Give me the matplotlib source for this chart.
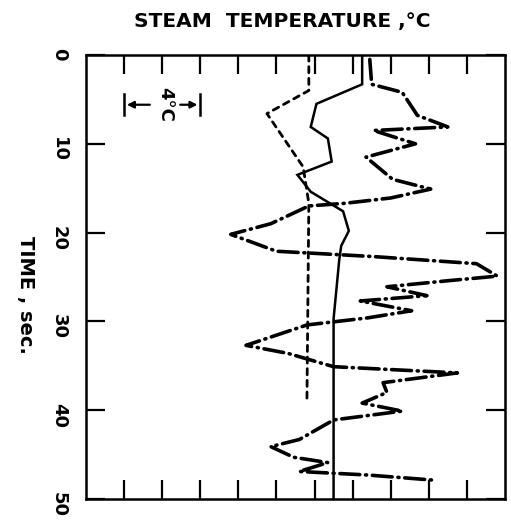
import matplotlib
matplotlib.use("Agg")
import matplotlib.pyplot as plt

# ---- data (temperature in degC relative units, time in sec) ----
solid_T = [14.5, 14.5, 12.1, 11.8, 12.7, 12.9, 11.1, 11.8, 13.5, 13.8, 13.4, 13.3, 13.0, 13.0]
solid_t = [0.0, 3.3, 5.5, 8.1, 9.4, 12.0, 13.5, 15.4, 17.6, 19.8, 21.5, 23.0, 29.7, 50.0]

dashed_T = [11.7, 11.7, 9.5, 11.4, 11.7, 11.6]
dashed_t = [0.0, 4.0, 6.6, 12.6, 16.7, 39.0]

dashdot_T = [14.9, 15.0, 16.6, 17.4, 19.0, 15.1, 17.3, 14.7, 16.1, 18.1, 16.0, 13.6, 11.7,
             9.7, 7.6, 10.0, 15.1, 20.5, 21.6, 19.1, 15.8, 17.9, 14.4, 17.1, 14.8, 11.6,
             8.4, 10.6, 13.0, 19.5, 15.6, 15.8, 14.5, 16.6, 13.0, 11.2, 9.7, 10.9, 12.7,
             11.2, 14.8, 18.4]
dashdot_t = [0.5, 3.3, 4.2, 6.8, 8.1, 8.5, 10.0, 11.5, 14.0, 15.1, 16.1, 16.7, 17.0,
             19.0, 20.2, 22.1, 22.7, 23.5, 24.9, 25.4, 26.1, 27.1, 27.7, 28.8, 29.6, 30.4,
             32.7, 33.6, 35.1, 35.8, 36.9, 38.0, 39.2, 40.1, 41.1, 43.3, 44.1, 45.3, 45.9,
             46.9, 47.3, 47.9]

x_ticks = [2, 4, 6, 8, 10, 12, 14, 16, 18, 20]
y_ticks = [0, 10, 20, 30, 40, 50]
y_labels = ["0", "10", "20", "30", "40", "50"]

title = "STEAM  TEMPERATURE ,°C"
ylabel = "TIME , sec."
scale_label = "4°C"
scale_T = [2.0, 6.0]
scale_t = 5.6

plt.rcParams['font.family'] = ['DejaVu Sans']

fig = plt.figure(figsize=(5.11, 5.24), dpi=100)
fig.patch.set_facecolor("white")
ax = fig.add_axes([86 / 511, 1 - 499 / 524, (505 - 86) / 511, (499 - 55) / 524])

ax.plot(solid_T, solid_t, color="black", lw=1.8, solid_joinstyle="miter")
ax.plot(dashed_T, dashed_t, color="black", lw=2.0, linestyle=(0, (2.2, 2.0)),
        dash_capstyle="round")
ax.plot(dashdot_T, dashdot_t, color="black", lw=2.6, linestyle=(0, (5.5, 1.6, 0.3, 1.6)),
        dash_capstyle="round")

ax.set_xlim(0, 22)
ax.set_ylim(50, 0)
ax.set_xticks(x_ticks)
ax.set_xticklabels([])
ax.set_yticks(y_ticks)
ax.set_yticklabels(y_labels, rotation=-90, fontsize=13, fontweight="bold")
ax.tick_params(axis="both", direction="in", length=14, width=1.6, top=True, bottom=True,
               left=True, right=True, labelbottom=False, labeltop=False, labelright=False)
ax.tick_params(axis="y", pad=13)
for s in ax.spines.values():
    s.set_linewidth(1.8)

# scale bar
cap_half = 1.2
for T in scale_T:
    ax.plot([T, T], [scale_t - cap_half, scale_t + cap_half], color="black", lw=1.8)
ax.annotate("", xy=(scale_T[0], scale_t), xytext=(3.5, scale_t),
            arrowprops=dict(arrowstyle="-|>", color="black", lw=1.6, mutation_scale=10))
ax.annotate("", xy=(scale_T[1], scale_t), xytext=(4.8, scale_t),
            arrowprops=dict(arrowstyle="-|>", color="black", lw=1.6, mutation_scale=10))
ax.text(4.15, scale_t, scale_label, rotation=-90, ha="center", va="center",
        fontsize=13, fontweight="bold")

fig.text(282 / 511, 1 - 22 / 524, title, ha="center", va="center", fontsize=14.5,
         fontweight="bold")
fig.text(25 / 511, 1 - 295 / 524, ylabel, rotation=-90, ha="center", va="center",
         fontsize=14, fontweight="bold")

fig.savefig("out.png", dpi=100, facecolor="white")
